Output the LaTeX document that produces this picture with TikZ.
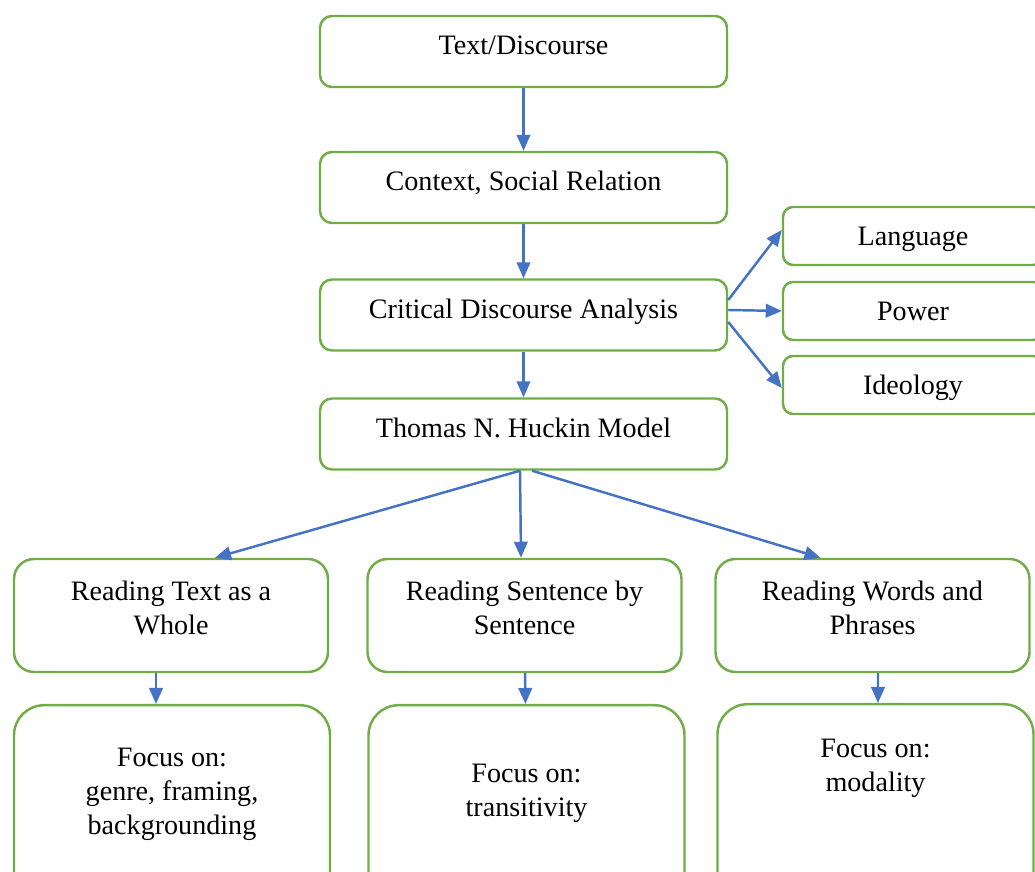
\documentclass[tikz,border=0pt]{standalone}
\usepackage{xcolor}
\usepackage{fontspec}
\setmainfont{Liberation Serif}
\usepackage{tikz}
\usetikzlibrary{arrows.meta}

\definecolor{boxgreen}{HTML}{70AD47}
\definecolor{arrblue}{HTML}{4472C4}

\begin{document}
\begin{tikzpicture}[
    every node/.style={font=\fontsize{16}{19.5}\selectfont, align=center},
    topbox/.style={draw=boxgreen, line width=1.4pt, rounded corners=0.24cm, minimum width=8.14cm, minimum height=1.42cm, text depth=0.26cm},
    sidebox/.style={draw=boxgreen, line width=1.4pt, rounded corners=0.2cm, minimum width=5.2cm, minimum height=1.16cm, text depth=0cm},
    readbox/.style={draw=boxgreen, line width=1.4pt, rounded corners=0.4cm, minimum width=6.28cm, minimum height=2.26cm, text depth=0.3cm},
    focusbox/.style={draw=boxgreen, line width=1.4pt, rounded corners=0.6cm, minimum width=6.32cm, minimum height=4cm, anchor=north},
    arr/.style={draw=arrblue, line width=1.4pt, -{Triangle[length=0.32cm, width=0.27cm]}}
]
                    \useasboundingbox (0,0) rectangle (20.7,17.44);
                    
                    \node[topbox] (td) at (10.47,16.41) {Text/Discourse};
                    \node[topbox] (ctx) at (10.47,13.69) {Context, Social Relation};
                    \node[topbox] (cda) at (10.47,11.14) {Critical Discourse Analysis};
                    \node[topbox] (hkm) at (10.47,8.76) {Thomas N. Huckin Model};
                    
                    \node[sidebox] (lang) at (18.26,12.72) {Language};
                    \node[sidebox] (pow) at (18.26,11.22) {Power};
                    \node[sidebox] (ideo) at (18.26,9.74) {Ideology};
                    
                    \node[readbox] (rtw) at (3.42,5.13) {Reading Text as a\\Whole};
                    \node[readbox] (rss) at (10.49,5.13) {Reading Sentence by\\Sentence};
                    \node[readbox] (rwp) at (17.45,5.13) {Reading Words and\\Phrases};
                    
                    \node[focusbox, text depth=0.56cm] (ftw) at (3.44,3.36) {Focus on:\\genre, framing,\\backgrounding};
                    \node[focusbox, text depth=0.6cm] (fss) at (10.53,3.36) {Focus on:\\transitivity};
                    \node[focusbox, text depth=1.56cm] (fwp) at (17.51,3.38) {Focus on:\\modality};
                    
                    \draw[arr] (td) -- (ctx);
                    \draw[arr] (ctx) -- (cda);
                    \draw[arr] (cda) -- (hkm);
                    
                    \draw[arr] ([yshift=0.3cm]cda.east) -- ([yshift=0.12cm]lang.west);
                    \draw[arr] ([yshift=0.1cm]cda.east) -- (pow.west);
                    \draw[arr] ([yshift=-0.14cm]cda.east) -- ([yshift=-0.06cm]ideo.west);
                    
                    \draw[arr] ([xshift=-0.07cm]hkm.south) -- ([xshift=0.88cm]rtw.north);
                    \draw[arr] ([xshift=-0.07cm]hkm.south) -- ([xshift=-0.07cm]rss.north);
                    \draw[arr] ([xshift=0.17cm]hkm.south) -- ([xshift=-1.04cm]rwp.north);
                    
                    \draw[arr] ([xshift=-0.3cm]rtw.south) -- ([xshift=-0.32cm]ftw.north);
                    \draw[arr] (rss) -- (fss);
                    \draw[arr] ([xshift=0.11cm]rwp.south) -- ([xshift=0.05cm]fwp.north);
                \end{tikzpicture}
\end{document}
